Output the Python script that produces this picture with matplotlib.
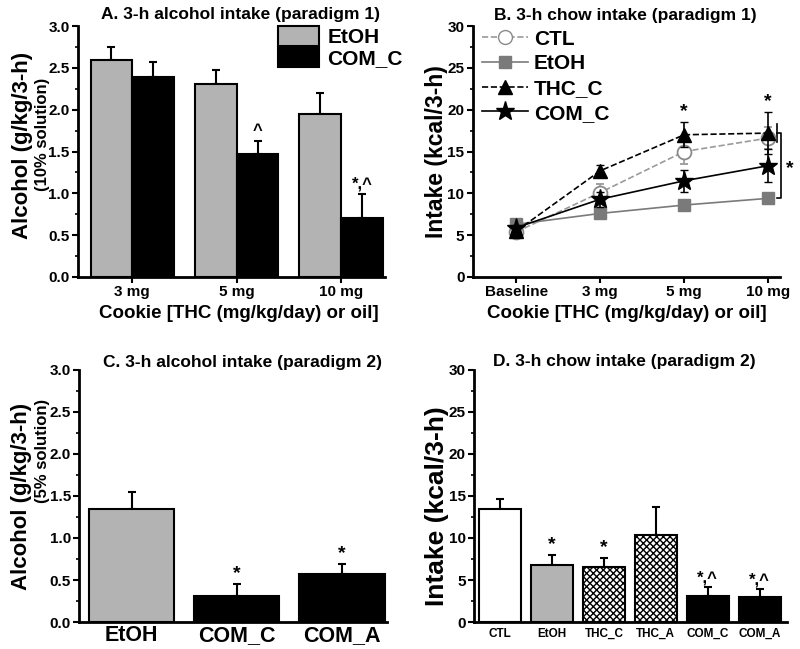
import numpy as np
import matplotlib
matplotlib.use("Agg")
import matplotlib.pyplot as plt
from matplotlib.lines import Line2D
from matplotlib.patches import Patch

plt.rcParams['font.family'] = ['Liberation Sans', 'DejaVu Sans']
plt.rcParams['font.weight'] = 'bold'
plt.rcParams['hatch.linewidth'] = 1.0

# ----------------------------
# DATA
# ----------------------------
# A. alcohol intake, paradigm 1
a_doses = ["3 mg", "5 mg", "10 mg"]
a_etoh = [2.59, 2.31, 1.95]
a_etoh_err = [0.16, 0.17, 0.25]
a_com = [2.39, 1.47, 0.70]
a_com_err = [0.18, 0.16, 0.29]
a_com_marks = ["", "^", "*,^"]

# B. chow intake, paradigm 1
b_points = ["Baseline", "3 mg", "5 mg", "10 mg"]
b_ctl = [5.4, 10.1, 15.0, 16.6]
b_ctl_err = [0.4, 1.0, 1.5, 1.3]
b_etoh = [6.3, 7.6, 8.6, 9.4]
b_etoh_err = [0.3, 0.4, 0.5, 0.5]
b_thc = [5.5, 12.7, 17.0, 17.2]
b_thc_err = [0.3, 0.7, 1.5, 2.5]
b_com = [5.9, 9.3, 11.5, 13.3]
b_com_err = [0.3, 0.9, 1.3, 2.0]
b_marks = ["", "", "*", "*"]

# C. alcohol intake, paradigm 2
c_groups = ["EtOH", "COM_C", "COM_A"]
c_vals = [1.34, 0.31, 0.57]
c_err = [0.21, 0.14, 0.12]
c_marks = ["", "*", "*"]

# D. chow intake, paradigm 2
d_groups = ["CTL", "EtOH", "THC_C", "THC_A", "COM_C", "COM_A"]
d_vals = [13.5, 6.8, 6.5, 10.3, 3.1, 3.0]
d_err = [1.1, 1.2, 1.1, 3.4, 1.1, 0.9]
d_marks = ["", "*", "*", "", "*,^", "*,^"]

GRAY = "#b3b3b3"
DGRAY = "#7a7a7a"


def style_axes(ax, ymax, ystep):
    ax.spines['top'].set_visible(False)
    ax.spines['right'].set_visible(False)
    ax.spines['left'].set_linewidth(2)
    ax.spines['bottom'].set_linewidth(2)
    ax.set_ylim(0, ymax)
    ax.set_yticks(np.arange(0, ymax + ystep / 2, ystep))
    ax.set_yticks(np.arange(ystep / 2, ymax, ystep), minor=True)
    ax.tick_params(axis='both', which='major', direction='out', length=4, width=1.5, labelsize=11, pad=2)
    ax.tick_params(axis='y', which='minor', direction='out', length=2.5, width=1.2)
    for lab in ax.get_xticklabels() + ax.get_yticklabels():
        lab.set_fontweight('bold')


fig = plt.figure(figsize=(8, 6.49), dpi=100)

# ----------------------------
# PANEL A
# ----------------------------
axA = fig.add_axes([0.0975, 0.5732, 0.38375, 0.3867])
x = np.arange(len(a_doses))
w = 0.40
axA.bar(x - w / 2, a_etoh, w, color=GRAY, edgecolor='black', linewidth=1.5, zorder=3)
axA.bar(x + w / 2, a_com, w, color='black', edgecolor='black', linewidth=1.5, zorder=3)
axA.errorbar(x - w / 2, a_etoh, yerr=[np.zeros(3), a_etoh_err], fmt='none', ecolor='black',
             elinewidth=1.5, capsize=3, capthick=1.5, zorder=2)
axA.errorbar(x + w / 2, a_com, yerr=[np.zeros(3), a_com_err], fmt='none', ecolor='black',
             elinewidth=1.5, capsize=3, capthick=1.5, zorder=2)
for i, m in enumerate(a_com_marks):
    if m:
        axA.text(x[i] + w / 2, a_com[i] + a_com_err[i] + 0.03, m, ha='center', va='bottom',
                 fontsize=12, fontweight='bold')
axA.set_xlim(-0.52, 2.42)
axA.set_xticks(x)
axA.set_xticklabels(a_doses)
style_axes(axA, 3.0, 0.5)
axA.set_yticklabels([f"{v:.1f}" for v in np.arange(0, 3.01, 0.5)])
axA.text(0.528, 1.044, "A. 3-h alcohol intake (paradigm 1)", transform=axA.transAxes,
         ha='center', va='center', fontsize=12.5, fontweight='bold')
axA.legend(handles=[Patch(facecolor=GRAY, edgecolor='black', linewidth=1.5, label="EtOH"),
                    Patch(facecolor='black', edgecolor='black', linewidth=1.5, label="COM_C")],
           loc='upper left', bbox_to_anchor=(0.65, 1.0), frameon=False, fontsize=15,
           handlelength=2.0, handleheight=1.1, labelspacing=0.0, handletextpad=0.4,
           borderaxespad=0, borderpad=0)

# ----------------------------
# PANEL B
# ----------------------------
axB = fig.add_axes([0.591, 0.5732, 0.38375, 0.3867])
xb = np.arange(len(b_points))
axB.errorbar(xb, b_etoh, yerr=b_etoh_err, color=DGRAY, ls='-', lw=1.2, marker='s', ms=9,
             mfc=DGRAY, mec=DGRAY, capsize=3, elinewidth=1.2, zorder=3)
axB.errorbar(xb, b_ctl, yerr=b_ctl_err, color='#9a9a9a', ls='--', lw=1.2, marker='o', ms=10,
             mfc='white', mec='#8a8a8a', mew=1.3, capsize=3, elinewidth=1.2, zorder=4)
axB.errorbar(xb, b_com, yerr=b_com_err, color='black', ls='-', lw=1.2, marker='*', ms=14,
             mfc='black', mec='black', capsize=3, elinewidth=1.2, zorder=5)
axB.errorbar(xb, b_thc, yerr=b_thc_err, color='black', ls='--', lw=1.2, marker='^', ms=10,
             mfc='black', mec='black', capsize=3, elinewidth=1.2, zorder=6)
for i, m in enumerate(b_marks):
    if m:
        axB.text(xb[i], b_thc[i] + b_thc_err[i] + 0.2, m, ha='center', va='bottom',
                 fontsize=14, fontweight='bold')
# bracket between THC_C and EtOH at 10 mg
top, bot = b_thc[-1], b_etoh[-1]
xr = xb[-1] + 0.155
axB.plot([xr - 0.05, xr, xr, xr - 0.05], [top, top, bot, bot], color='black', lw=1.2, clip_on=False)
axB.plot([xb[-1] + 0.107] * 2, [top - 1.1, top + 1.1], color='black', lw=1.2, clip_on=False)
axB.text(xr + 0.1, (top + bot) / 2 - 0.4, "*", ha='center', va='center', fontsize=14, fontweight='bold')
axB.set_xlim(-0.52, 3.14)
axB.set_xticks(xb)
axB.set_xticklabels(b_points)
style_axes(axB, 30, 5)
axB.text(0.497, 1.04, "B. 3-h chow intake (paradigm 1)", transform=axB.transAxes,
         ha='center', va='center', fontsize=12.5, fontweight='bold')
handles = [
    Line2D([], [], color='#9a9a9a', ls='--', lw=1.2, marker='o', ms=10, mfc='white', mec='#8a8a8a', label="CTL"),
    Line2D([], [], color=DGRAY, ls='-', lw=1.2, marker='s', ms=9, mfc=DGRAY, mec=DGRAY, label="EtOH"),
    Line2D([], [], color='black', ls='--', lw=1.2, marker='^', ms=10, label="THC_C"),
    Line2D([], [], color='black', ls='-', lw=1.2, marker='*', ms=14, label="COM_C"),
]
axB.legend(handles=handles, loc='upper left', bbox_to_anchor=(0.03, 0.985), frameon=False,
           fontsize=15, handlelength=2.2, labelspacing=0.27, handletextpad=0.3,
           borderaxespad=0, borderpad=0)

# ----------------------------
# PANEL C
# ----------------------------
axC = fig.add_axes([0.099, 0.0416, 0.385, 0.3883])
xc = np.arange(len(c_groups))
c_colors = [GRAY, 'black', 'black']
axC.bar(xc, c_vals, 0.81, color=c_colors, edgecolor='black', linewidth=1.5, zorder=3)
axC.errorbar(xc, c_vals, yerr=[np.zeros(3), c_err], fmt='none', ecolor='black',
             elinewidth=1.5, capsize=3, capthick=1.5, zorder=2)
for i, m in enumerate(c_marks):
    if m:
        axC.text(xc[i], c_vals[i] + c_err[i] + 0.02, m, ha='center', va='bottom',
                 fontsize=14, fontweight='bold')
axC.set_xlim(-0.5, 2.43)
axC.set_xticks(xc)
axC.set_xticklabels(c_groups)
style_axes(axC, 3.0, 0.5)
axC.set_yticklabels([f"{v:.1f}" for v in np.arange(0, 3.01, 0.5)])
axC.tick_params(axis='x', labelsize=15.5, length=0)
axC.text(0.529, 1.03, "C. 3-h alcohol intake (paradigm 2)", transform=axC.transAxes,
         ha='center', va='center', fontsize=12.5, fontweight='bold')

# ----------------------------
# PANEL D
# ----------------------------
axD = fig.add_axes([0.5925, 0.0416, 0.391, 0.3883])
xd = np.arange(len(d_groups))
d_colors = ['white', GRAY, 'white', 'white', 'black', 'black']
d_hatch = ['', '', 'xxxxx', 'xxxxx', '', '']
bars = axD.bar(xd, d_vals, 0.8, color=d_colors, edgecolor='black', linewidth=1.5, zorder=3)
for b, h in zip(bars, d_hatch):
    b.set_hatch(h)
axD.errorbar(xd, d_vals, yerr=[np.zeros(len(xd)), d_err], fmt='none', ecolor='black',
             elinewidth=1.5, capsize=3, capthick=1.5, zorder=2)
for i, m in enumerate(d_marks):
    if m:
        axD.text(xd[i], d_vals[i] + d_err[i] + 0.2, m, ha='center', va='bottom',
                 fontsize=14 if m == "*" else 12, fontweight='bold')
axD.set_xlim(-0.5, 5.52)
axD.set_xticks(xd)
axD.set_xticklabels(d_groups)
style_axes(axD, 30, 5)
axD.tick_params(axis='x', labelsize=8.5, length=0, pad=4)
axD.text(0.482, 1.035, "D. 3-h chow intake (paradigm 2)", transform=axD.transAxes,
         ha='center', va='center', fontsize=12.5, fontweight='bold')

# ----------------------------
# AXIS LABELS
# ----------------------------
fig.text(0.028, 0.7766, "Alcohol (g/kg/3-h)", rotation=90, ha='center', va='center', fontsize=16, fontweight='bold')
fig.text(0.053, 0.7935, "(10% solution)", rotation=90, ha='center', va='center', fontsize=12, fontweight='bold')
fig.text(0.027, 0.2357, "Alcohol (g/kg/3-h)", rotation=90, ha='center', va='center', fontsize=16, fontweight='bold')
fig.text(0.053, 0.305, "(5% solution)", rotation=90, ha='center', va='center', fontsize=12, fontweight='bold')
fig.text(0.546, 0.767, "Intake (kcal/3-h)", rotation=90, ha='center', va='center', fontsize=16.5, fontweight='bold')
fig.text(0.546, 0.22, "Intake (kcal/3-h)", rotation=90, ha='center', va='center', fontsize=19, fontweight='bold')
fig.text(0.298, 0.5177, "Cookie [THC (mg/kg/day) or oil]", ha='center', va='center', fontsize=13.5, fontweight='bold')
fig.text(0.784, 0.5177, "Cookie [THC (mg/kg/day) or oil]", ha='center', va='center', fontsize=13.5, fontweight='bold')

fig.savefig("out.png", dpi=100)
